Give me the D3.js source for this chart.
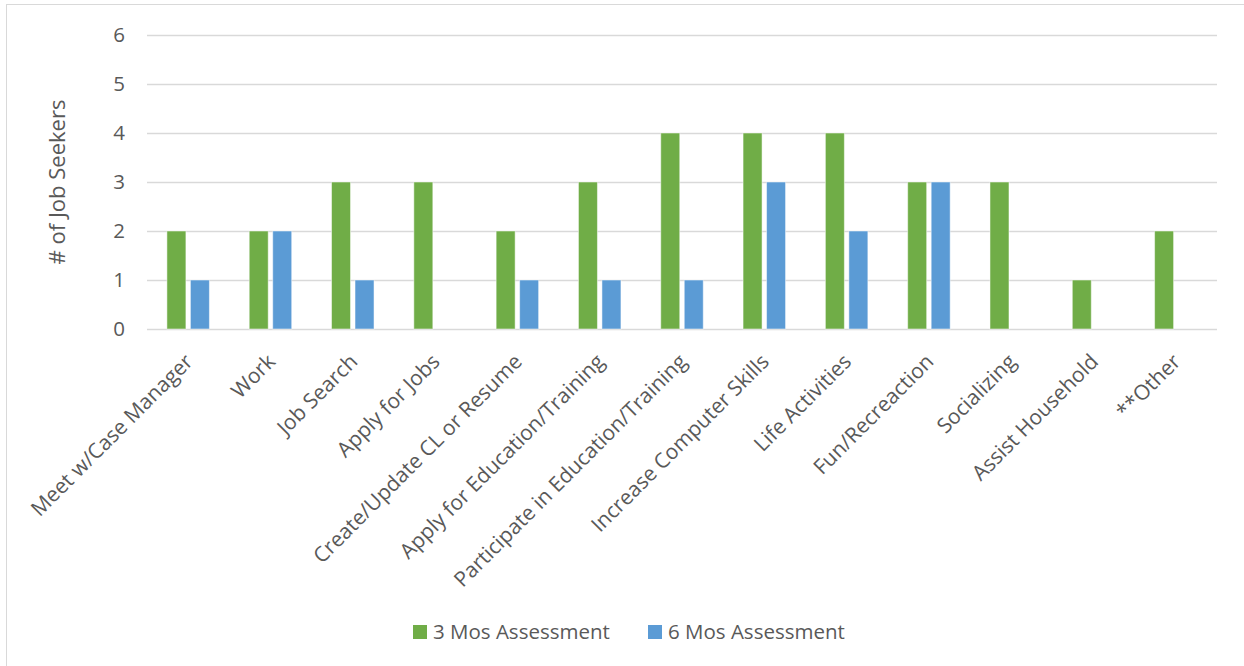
<!DOCTYPE html>
<html>
<head>
<meta charset="utf-8">
<script src="https://cdn.jsdelivr.net/npm/d3@7"></script>
<style>
  html, body { margin: 0; padding: 0; background: #fff; }
  svg { display: block; }
  text { font-family: "Open Sans", "Noto Sans", sans-serif; fill: #595959; }
</style>
</head>
<body>
<svg id="chart" width="1244" height="666"></svg>
<script>
// Activities reported by job seekers at each assessment point
const categories = [
  "Meet w/Case Manager", "Work", "Job Search", "Apply for Jobs",
  "Create/Update CL or Resume", "Apply for Education/Training",
  "Participate in Education/Training", "Increase Computer Skills",
  "Life Activities", "Fun/Recreaction", "Socializing", "Assist Household", "**Other"
];
const seriesNames = ["3 Mos Assessment", "6 Mos Assessment"];
const threeMonths = [2, 2, 3, 3, 2, 3, 4, 4, 4, 3, 3, 1, 2];
const sixMonths   = [1, 2, 1, 0, 1, 1, 1, 3, 2, 3, 0, 0, 0];
const yTicks = [0, 1, 2, 3, 4, 5, 6];
const colors = ["#70AD47", "#5B9BD5"];

const svg = d3.select("#chart");
const W = 1244, H = 666;
const FS = 20.5;

// Outer chart frame
svg.append("rect")
  .attr("x", 6.5).attr("y", 4.5)
  .attr("width", W + 10).attr("height", H + 10)
  .attr("fill", "none").attr("stroke", "#d9d9d9").attr("stroke-width", 1);

const plot = { left: 147, right: 1217, top: 35, bottom: 329 };

const x = d3.scaleBand().domain(categories).range([plot.left, plot.right]).padding(0);
const y = d3.scaleLinear().domain([0, 6]).range([plot.bottom, plot.top]);

const barW = 19, barGap = 4.5;
const groupW = barW * 2 + barGap;

// Gridlines
svg.append("g").selectAll("line").data(yTicks).join("line")
  .attr("x1", plot.left).attr("x2", plot.right)
  .attr("y1", d => Math.round(y(d)) + 0.5).attr("y2", d => Math.round(y(d)) + 0.5)
  .attr("stroke", "#d9d9d9").attr("stroke-width", 1.3);

// Y tick labels
const yAxis = d3.axisLeft(y).tickValues(yTicks).tickFormat(d3.format("d")).tickSize(0).tickPadding(0);
const gy = svg.append("g").attr("transform", `translate(${plot.left - 22},0)`).call(yAxis);
gy.select(".domain").remove();
gy.attr("font-size", null).attr("font-family", null);
gy.selectAll("text").attr("font-size", FS).attr("fill", "#595959");

// Y axis title
svg.append("text")
  .attr("transform", `translate(65,${(plot.top + plot.bottom) / 2}) rotate(-90)`)
  .attr("text-anchor", "middle")
  .attr("font-size", 22)
  .text("# of Job Seekers");

// Bars
const series = [threeMonths, sixMonths];
series.forEach((vals, si) => {
  svg.append("g").selectAll("rect")
    .data(categories.map((c, i) => ({ c, v: vals[i] })).filter(d => d.v > 0))
    .join("rect")
    .attr("x", d => x(d.c) + (x.bandwidth() - groupW) / 2 + si * (barW + barGap))
    .attr("y", d => y(d.v))
    .attr("width", barW)
    .attr("height", d => y(0) - y(d.v))
    .attr("fill", colors[si])
    .attr("stroke", "#ffffff").attr("stroke-opacity", 0.5).attr("stroke-width", 1);
});

// Rotated category labels
const gx = svg.append("g").attr("transform", `translate(0,${plot.bottom})`)
  .call(d3.axisBottom(x).tickSize(0).tickPadding(0));
gx.select(".domain").remove();
gx.attr("font-size", null).attr("font-family", null);
gx.selectAll("text")
  .attr("font-size", 21)
  .attr("fill", "#595959")
  .attr("text-anchor", "end")
  .attr("dy", "0")
  .attr("transform", "translate(6,34) rotate(-45)");

// Legend
const legend = svg.append("g");
const legendX = [413, 648];
seriesNames.forEach((name, i) => {
  const g = legend.append("g").attr("transform", `translate(${legendX[i]},${632})`);
  g.append("rect").attr("x", 0).attr("y", -7).attr("width", 14).attr("height", 14).attr("fill", colors[i]);
  g.append("text").attr("x", 20).attr("y", 0).attr("dy", "0.35em").attr("font-size", FS).text(name);
});
</script>
</body>
</html>
